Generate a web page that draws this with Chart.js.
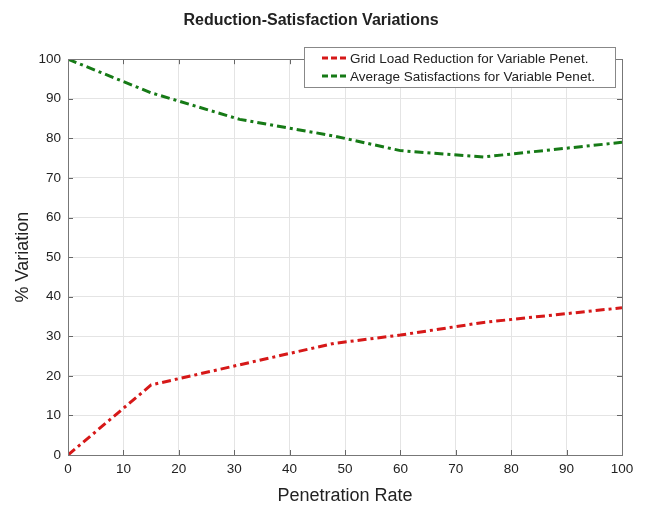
<!DOCTYPE html>
<html lang="en">
<head>
<meta charset="UTF-8">
<title>Reduction-Satisfaction Variations</title>
<script src="https://cdn.jsdelivr.net/npm/chart.js"></script>
<style>
  html, body { margin: 0; padding: 0; background: #fff; }
  #wrap { width: 646px; height: 511px; }
</style>
</head>
<body>
<div id="wrap"><canvas id="chart" width="646" height="511"></canvas></div>
<script>
// data
const penetration = [0, 15, 31, 48, 60, 75, 100];
const gridLoadReduction = [0, 17.7, 22.8, 28.2, 30.3, 33.5, 37.2];
const avgSatisfaction = [100, 91.5, 84.8, 80.6, 76.9, 75.3, 79.0];
const xTicks = [0, 10, 20, 30, 40, 50, 60, 70, 80, 90, 100];
const yTicks = [0, 10, 20, 30, 40, 50, 60, 70, 80, 90, 100];
const seriesNames = ['Grid Load Reduction for Variable Penet.', 'Average Satisfactions for Variable Penet.'];

const redColor = 'rgb(214, 24, 24)';
const greenColor = 'rgb(22, 122, 22)';
const dashPattern = [9, 4, 3, 4];

function toPoints(xs, ys) {
    return xs.map((x, i) => ({ x: x, y: ys[i] }));
}

// matlab style box with inward ticks, plus legend inside the axes
const boxPlugin = {
    id: 'boxPlugin',
    afterDraw(chart) {
        const ctx = chart.ctx;
        const a = chart.chartArea;
        const xs = chart.scales.x, ys = chart.scales.y;
        ctx.save();
        ctx.strokeStyle = '#666';
        ctx.lineWidth = 1;
        ctx.beginPath();
        xTicks.forEach(t => {
            const px = Math.round(xs.getPixelForValue(t)) + 0.5;
            ctx.moveTo(px, a.bottom); ctx.lineTo(px, a.bottom - 5);
            ctx.moveTo(px, a.top); ctx.lineTo(px, a.top + 5);
        });
        yTicks.forEach(t => {
            const py = Math.round(ys.getPixelForValue(t)) + 0.5;
            ctx.moveTo(a.left, py); ctx.lineTo(a.left + 5, py);
            ctx.moveTo(a.right, py); ctx.lineTo(a.right - 5, py);
        });
        ctx.stroke();
        ctx.strokeStyle = '#777';
        ctx.strokeRect(Math.round(a.left) + 0.5, Math.round(a.top) + 0.5,
            Math.round(a.right - a.left), Math.round(a.bottom - a.top));

        // legend
        const lx = 304, ly = 47, lw = 311, lh = 40;
        ctx.fillStyle = '#fff';
        ctx.fillRect(lx, ly, lw, lh);
        ctx.strokeStyle = '#888';
        ctx.strokeRect(lx + 0.5, ly + 0.5, lw, lh);
        ctx.font = '13.5px "Liberation Sans", Arial, sans-serif';
        ctx.textBaseline = 'middle';
        ctx.textAlign = 'left';
        [redColor, greenColor].forEach((c, i) => {
            const y = ly + 11 + i * 18;
            ctx.strokeStyle = c;
            ctx.lineWidth = 3;
            ctx.setLineDash([6, 3]);
            ctx.beginPath();
            ctx.moveTo(lx + 18, y); ctx.lineTo(lx + 45, y);
            ctx.stroke();
            ctx.setLineDash([]);
            ctx.fillStyle = '#222';
            ctx.fillText(seriesNames[i], lx + 46, y + 1);
        });
        ctx.restore();
    }
};

new Chart(document.getElementById('chart'), {
    type: 'line',
    data: {
        datasets: [{
            label: seriesNames[0],
            data: toPoints(penetration, gridLoadReduction),
            borderColor: redColor,
            borderWidth: 3,
            borderDash: dashPattern,
            pointRadius: 0,
            fill: false,
            tension: 0
        }, {
            label: seriesNames[1],
            data: toPoints(penetration, avgSatisfaction),
            borderColor: greenColor,
            borderWidth: 3,
            borderDash: dashPattern,
            pointRadius: 0,
            fill: false,
            tension: 0
        }]
    },
    options: {
        responsive: false,
        animation: false,
        layout: { padding: { top: 0, right: 24, bottom: 0, left: 0 } },
        plugins: {
            legend: { display: false },
            tooltip: { enabled: false },
            title: {
                display: true,
                text: 'Reduction-Satisfaction Variations',
                color: '#222',
                font: { family: '"Liberation Sans", Arial, sans-serif', size: 16, weight: 'bold' },
                padding: { top: 11, bottom: 29 }
            }
        },
        scales: {
            x: {
                type: 'linear',
                min: 0, max: 100,
                afterBuildTicks: s => { s.ticks = xTicks.map(v => ({ value: v })); },
                afterFit: s => { s.height = 56; },
                grid: { color: '#e4e4e4', tickLength: 0 },
                border: { display: false },
                ticks: {
                    color: '#222', padding: 6,
                    font: { family: '"Liberation Sans", Arial, sans-serif', size: 13.5 }
                },
                title: {
                    display: true, text: 'Penetration Rate', color: '#222',
                    font: { family: '"Liberation Sans", Arial, sans-serif', size: 18 },
                    padding: { top: 3 }
                }
            },
            y: {
                min: 0, max: 100,
                afterBuildTicks: s => { s.ticks = yTicks.map(v => ({ value: v })); },
                afterFit: s => { s.width = 68; },
                grid: { color: '#e4e4e4', tickLength: 0 },
                border: { display: false },
                ticks: {
                    color: '#222', padding: 7,
                    font: { family: '"Liberation Sans", Arial, sans-serif', size: 13.5 }
                },
                title: {
                    display: true, text: '% Variation', color: '#222',
                    font: { family: '"Liberation Sans", Arial, sans-serif', size: 18 },
                    padding: { top: 12, bottom: 4 }
                }
            }
        }
    },
    plugins: [boxPlugin]
});
</script>
</body>
</html>
